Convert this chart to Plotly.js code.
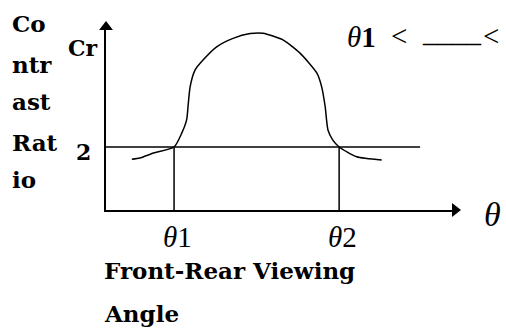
<!DOCTYPE html>
<html><head><meta charset="utf-8">
<script src="https://cdn.plot.ly/plotly-3.0.1.min.js"></script>
<style>html,body{margin:0;padding:0;background:#fff;overflow:hidden}</style>
</head><body><div id="chart" style="width:506px;height:331px"></div>
<script>
// Front-rear viewing angle vs contrast ratio (schematic)
const angle    = [7.4, 9.7, 13.6, 19.5, 21.7, 23.1, 23.6, 24.1, 25.5, 27.8, 31.7, 36.4, 41.3, 45.0, 50.7, 55.6, 60.4, 61.8, 62.8, 63.6, 65.0, 66.8, 71.8, 79.0];
const contrast = [1.61, 1.65, 1.81, 2.00, 2.44, 2.86, 3.40, 3.91, 4.44, 4.76, 5.18, 5.45, 5.60, 5.61, 5.40, 4.98, 4.35, 3.91, 3.28, 2.54, 2.22, 2.00, 1.69, 1.59];
const thresholdCr = 2;
const thetaValues = [19.5, 66.8];
const thresholdRange = [0, 90];
const xTickLabels = ["<i>θ</i>1", "<i>θ</i>2"];
const yTickLabels = ["2"];
const yTitleLines = ["Co", "ntr", "ast", "Rat", "io"];
const xTitleLines = ["Front-Rear Viewing", "Angle"];
const yAxisLabel = "Cr";
const xAxisLabel = "<i>θ</i>";
const conditionParts = ["<i>θ</i><b>1</b>", "&lt;", "____", "&lt;"];
const xMax = 100, yMax = 5.81;

// pixel -> paper helpers (plot area: x 106..455, y 27..210)
const L = 106, R = 455, T = 27, B = 210;
const px = x => (x - L) / (R - L);
const py = y => (B - y) / (B - T);

const serif = "DejaVu Serif";
const thetaFont = "Liberation Serif";
const black = "#000";

const dropX = [], dropY = [];
thetaValues.forEach((t, i) => { if (i) { dropX.push(null); dropY.push(null); } dropX.push(t, t); dropY.push(0, thresholdCr); });

const traces = [
  { x: angle, y: contrast, mode: "lines", line: { color: black, width: 1.5, shape: "spline", smoothing: 0.6 }, hoverinfo: "skip" },
  { x: thresholdRange, y: [thresholdCr, thresholdCr], mode: "lines", line: { color: black, width: 1.5 }, hoverinfo: "skip" },
  { x: dropX, y: dropY, mode: "lines", line: { color: black, width: 1.5 }, hoverinfo: "skip" },
  { x: [0], y: [yMax], mode: "markers", marker: { symbol: "triangle-up", size: 12, color: black }, cliponaxis: false, hoverinfo: "skip" },
  { x: [xMax], y: [0], mode: "markers", marker: { symbol: "triangle-right", size: 12, color: black }, cliponaxis: false, hoverinfo: "skip" }
];

const ann = [];
const bf = (s) => ({ family: serif, size: s, color: black, weight: 700 });
const tf = (s) => ({ family: thetaFont, size: s, color: black });
const yLineY = [24, 64, 101, 142, 179];
yTitleLines.forEach((t, i) => ann.push({ xref: "paper", yref: "paper", x: px(10), y: py(yLineY[i]), xanchor: "left", yanchor: "middle", text: t, showarrow: false, font: bf(23) }));
ann.push({ xref: "paper", yref: "paper", x: px(66), y: py(48), xanchor: "left", yanchor: "middle", text: yAxisLabel, showarrow: false, font: bf(22) });
ann.push({ xref: "paper", yref: "y", x: px(93), y: thresholdCr, xanchor: "right", yanchor: "middle", yshift: -5, text: yTickLabels[0], showarrow: false, font: bf(22) });
thetaValues.forEach((t, i) => ann.push({ xref: "x", yref: "paper", x: t, y: py(237), xanchor: "center", yanchor: "middle", xshift: 3, text: xTickLabels[i], showarrow: false, font: tf(29), borderpad: 0 }));
ann.push({ xref: "paper", yref: "paper", x: px(482), y: py(214), xanchor: "left", yanchor: "middle", text: xAxisLabel, showarrow: false, font: tf(34) });
const xTitleY = [270, 313];
xTitleLines.forEach((t, i) => ann.push({ xref: "paper", yref: "paper", x: px(103), y: py(xTitleY[i]), xanchor: "left", yanchor: "middle", text: t, showarrow: false, font: bf(23), borderpad: 0 }));
const condX = [346, 390, 421, 482];
const condY = [37, 36, 32, 36];
conditionParts.forEach((t, i) => ann.push({ xref: "paper", yref: "paper", x: px(condX[i]), y: py(condY[i]), xanchor: "left", yanchor: "middle", text: t, showarrow: false, font: tf(29), borderpad: 0 }));

const axisCommon = { showline: true, linecolor: black, linewidth: 2, showgrid: false, zeroline: false, showticklabels: false, ticks: "", fixedrange: true };
const layout = {
  width: 506, height: 331,
  margin: { l: L, r: 506 - R, t: T, b: 331 - B, pad: 0 },
  paper_bgcolor: "#fff", plot_bgcolor: "#fff",
  showlegend: false,
  xaxis: Object.assign({ range: [0, xMax] }, axisCommon),
  yaxis: Object.assign({ range: [0, yMax] }, axisCommon),
  annotations: ann
};
Plotly.newPlot("chart", traces, layout, { staticPlot: true, displayModeBar: false });
</script></body></html>
